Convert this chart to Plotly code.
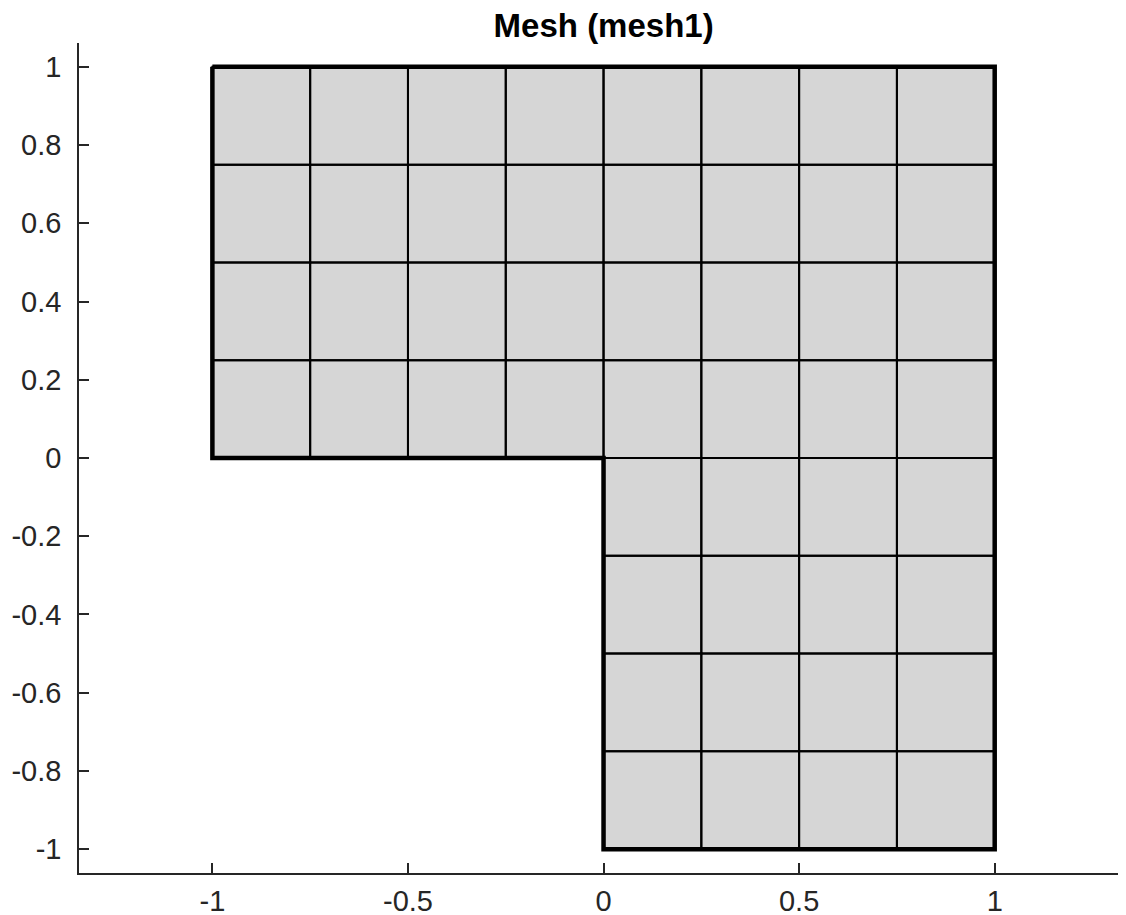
import plotly.graph_objects as go

# Mesh node coordinates (upper block and lower block of the L-shaped domain)
x_top = [-1, -0.75, -0.5, -0.25, 0, 0.25, 0.5, 0.75, 1]
y_top = [0, 0.25, 0.5, 0.75, 1]
x_bottom = [0, 0.25, 0.5, 0.75, 1]
y_bottom = [-1, -0.75, -0.5, -0.25, 0]

# Outer boundary of the domain
boundary_x = [-1, 1, 1, 0, 0, -1, -1]
boundary_y = [1, 1, -1, -1, 0, 0, 1]

# Tick values / labels
x_tickvals = [-1, -0.5, 0, 0.5, 1]
x_ticktext = ["-1", "-0.5", "0", "0.5", "1"]
y_tickvals = [-1, -0.8, -0.6, -0.4, -0.2, 0, 0.2, 0.4, 0.6, 0.8, 1]
y_ticktext = ["-1", "-0.8", "-0.6", "-0.4", "-0.2", "0", "0.2", "0.4", "0.6", "0.8", "1"]

cx, cy = [], []
for xs, ys in ((x_top, y_top), (x_bottom, y_bottom)):
    for i in range(len(xs) - 1):
        for j in range(len(ys) - 1):
            x0, x1, y0, y1 = xs[i], xs[i + 1], ys[j], ys[j + 1]
            cx += [x0, x1, x1, x0, x0, None]
            cy += [y0, y0, y1, y1, y0, None]

fig = go.Figure()
fig.add_trace(go.Scatter(x=cx, y=cy, mode="lines", fill="toself",
                         fillcolor="#d6d6d6", line=dict(color="black", width=2),
                         hoverinfo="skip", showlegend=False))
fig.add_trace(go.Scatter(x=boundary_x, y=boundary_y, mode="lines",
                         line=dict(color="black", width=4.5),
                         hoverinfo="skip", showlegend=False))

axis_common = dict(showgrid=False, zeroline=False, showline=True,
                   linecolor="#262626", linewidth=1.5, ticks="inside",
                   ticklen=10, tickwidth=1.5, tickcolor="#262626",
                   automargin=False,
                   tickfont=dict(family="Liberation Sans, Arial, sans-serif",
                                 size=29, color="#262626"))

fig.update_layout(
    width=1126, height=915,
    margin=dict(l=71, r=2, t=35, b=50),
    paper_bgcolor="white", plot_bgcolor="white",
    title=dict(text="<b>Mesh (mesh1)</b>", x=0.529, xanchor="center",
               y=0.981, yanchor="middle",
               font=dict(family="Liberation Sans, Arial, sans-serif",
                         size=33, color="black")),
    xaxis=dict(range=[-1.341, 1.351], tickvals=x_tickvals,
               ticktext=x_ticktext, ticklabelstandoff=1, **axis_common),
    yaxis=dict(range=[-1.061, 1.061], tickvals=y_tickvals,
               ticktext=y_ticktext, ticklabelstandoff=10, **axis_common),
)

fig.write_html("out.html")
